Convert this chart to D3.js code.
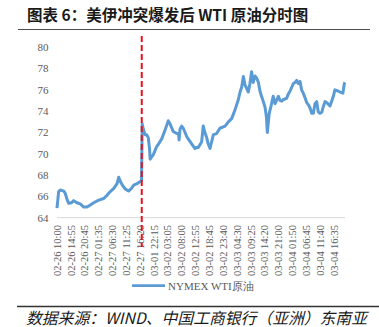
<!DOCTYPE html>
<html><head><meta charset="utf-8">
<script src="https://cdn.jsdelivr.net/npm/d3@7"></script>
<style>html,body{margin:0;padding:0;background:#fff;}svg{display:block;}</style>
</head><body>
<svg id="c" width="379" height="327"></svg>
<script>
// 5-minute bar index (ticks every 59 bars) and WTI price
const barIndex = [0,7,14,29,35,43,50,61,71,85,99,114,128,142,156,178,199,213,227,242,256,263,270,280,291,305,317,327,341,355,360,
363,368,375,382,389,394,397,403,410,425,432,446,460,474,481,495,510,518,520,524,531,538,553,559,567,581,588,595,602,616,623,630,638,643,652,666,680,694,716,730,744,758,772,780,787,794,801,807,815,822,829,836,844,851,858,865,872,879,886,892,896,900,904,911,921,929,936,943,950,957,965,978,985,993,1007,1014,1021,1027,1035,1042,1049,1056,1064,1071,1078,1085,1092,1099,1106,1113,1120,1128,1134,1142,1149,1163,1176,1184,1197,1206,1218,1224,1227];
const wtiPrice = [64.9,66.45,66.6,66.5,66.3,65.7,65.35,65.4,65.6,65.4,65.3,65.0,65.0,65.2,65.4,65.65,65.8,66.1,66.45,66.75,67.2,67.8,67.4,67.0,66.7,66.5,66.75,67.05,67.2,67.4,67.5,
72.8,72.3,71.8,71.8,71.5,70.5,69.5,69.7,69.9,70.7,70.9,71.4,72.2,73.1,72.85,72.1,71.9,71.9,71.3,72.3,72.6,72.4,71.6,71.4,71.15,70.7,70.5,70.6,70.6,71.1,72.6,72.0,71.5,71.0,70.5,71.8,71.9,72.4,72.6,73.0,73.3,74.1,75.05,75.8,76.3,77.25,76.45,76.2,75.8,76.6,77.7,76.7,77.3,77.1,76.7,75.85,75.35,74.9,74.4,73.5,72.0,72.9,73.8,74.4,75.4,74.7,75.05,75.4,75.0,74.95,75.1,75.2,75.6,75.9,76.6,76.7,76.9,76.6,76.8,76.0,75.7,75.3,74.8,74.6,74.3,73.8,73.8,74.7,74.9,73.95,73.8,73.9,74.4,74.9,74.8,74.5,75.3,76.0,75.9,75.8,75.7,76.6,76.7];
const tickLabels = ["02-26 10:00","02-26 14:55","02-26 20:45","02-27 01:35","02-27 06:30","02-27 11:25","02-27 16:20","03-01 22:15","03-02 03:05","03-02 08:00","03-02 12:55","03-02 18:45","03-02 23:40","03-03 04:30","03-03 09:25","03-03 14:20","03-03 21:00","03-04 01:50","03-04 06:45","03-04 11:40","03-04 16:35"];
const tickStep = 59;
const yTicks = [64,66,68,70,72,74,76,78,80];
const eventIndex = 361;
const seriesName = "NYMEX WTI原油";
const titleText = "图表 6：美伊冲突爆发后 WTI 原油分时图";
const sourceText = "数据来源：WIND、中国工商银行（亚洲）东南亚";

const svg = d3.select("#c");
const x = d3.scaleLinear().domain([0, 1180]).range([57, 334]);
const y = d3.scaleLinear().domain([64, 80]).range([217.7, 47.3]);
const serif = "'Liberation Serif','Times New Roman',serif";

// title
svg.append("text").attr("x", 27).attr("y", 20.5)
  .attr("font-family", "'Noto Sans CJK SC',sans-serif").attr("font-weight", "bold")
  .attr("font-size", 15.5).attr("fill", "#1a1a1a").text(titleText);
svg.append("line").attr("x1", 18).attr("x2", 370).attr("y1", 29.5).attr("y2", 29.5)
  .attr("stroke", "#4d4d4d").attr("stroke-width", 1);

// y labels
svg.append("g").selectAll("text").data(yTicks).join("text")
  .attr("x", 48.5).attr("y", d => y(d)).attr("dy", "0.35em")
  .attr("text-anchor", "end").attr("font-family", serif).attr("font-size", 11)
  .attr("fill", "#595959").text(d => d);

// x axis line
svg.append("line").attr("x1", x(0)).attr("x2", x(barIndex[barIndex.length-1]))
  .attr("y1", y(64)).attr("y2", y(64)).attr("stroke", "#d9d9d9").attr("stroke-width", 1);

// x labels
svg.append("g").selectAll("text").data(tickLabels).join("text")
  .attr("transform", (d, i) => `translate(${x(i*tickStep)},225) rotate(-90)`)
  .attr("dy", "0.35em").attr("text-anchor", "end")
  .attr("font-family", serif).attr("font-size", 10.5).attr("fill", "#595959").text(d => d);

// series line
const pts = barIndex.map((b, i) => [b, wtiPrice[i]]);
svg.append("path").datum(pts)
  .attr("d", d3.line().x(d => x(d[0])).y(d => y(d[1])))
  .attr("fill", "none").attr("stroke", "#5b9bd5").attr("stroke-width", 3)
  .attr("stroke-linejoin", "round");

// event line
svg.append("line").attr("x1", x(eventIndex)).attr("x2", x(eventIndex))
  .attr("y1", 36).attr("y2", 247).attr("stroke", "#e3141b").attr("stroke-width", 2)
  .attr("stroke-dasharray", "6,3");

// legend
svg.append("line").attr("x1", 132).attr("x2", 165).attr("y1", 285.7).attr("y2", 285.7)
  .attr("stroke", "#5b9bd5").attr("stroke-width", 2.8);
svg.append("text").attr("x", 168).attr("y", 285.7).attr("dy", "0.35em")
  .attr("font-family", serif).attr("font-size", 11).attr("fill", "#595959").text(seriesName);

// source
svg.append("line").attr("x1", 17).attr("x2", 379).attr("y1", 306.5).attr("y2", 306.5)
  .attr("stroke", "#333").attr("stroke-width", 1.3);
svg.append("text").attr("x", 26).attr("y", 323.5)
  .attr("font-family", "'Noto Sans CJK SC',sans-serif").attr("font-style", "italic")
  .attr("font-size", 15.8).attr("fill", "#1a1a1a").text(sourceText);
</script>
</body></html>
